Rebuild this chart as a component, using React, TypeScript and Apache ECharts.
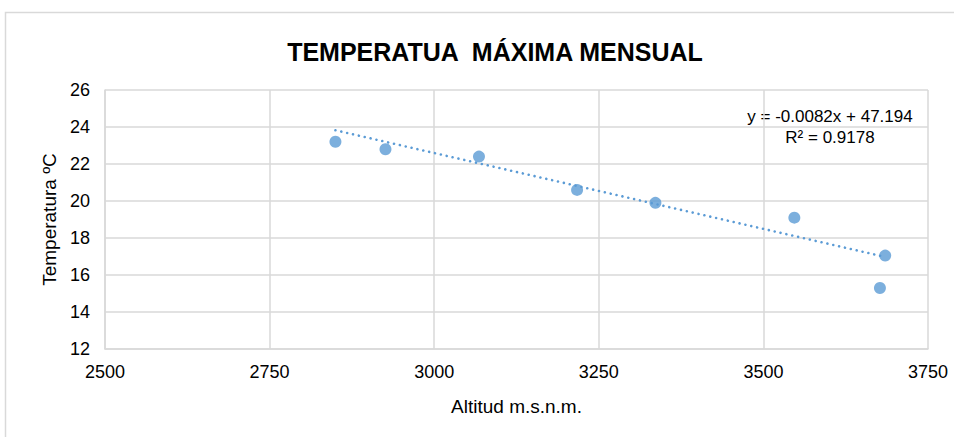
import React, { useEffect, useRef } from "react";
import * as echarts from "echarts";

const titleText = "TEMPERATUA  MÁXIMA MENSUAL";
const xAxisName = "Altitud m.s.n.m.";
const yAxisName = "Temperatura ºC";
const altitudes = [2850, 2926, 3068, 3217, 3336, 3547, 3685, 3677];
const temperatures = [23.2, 22.8, 22.4, 20.6, 19.9, 19.1, 17.05, 15.3];
const slope = -0.0082;
const intercept = 47.194;
const equationLines = ["y = -0.0082x + 47.194", "R² = 0.9178"];

const xMin = Math.min(...altitudes);
const xMax = Math.max(...altitudes);
const trendData = [
  [xMin, slope * xMin + intercept],
  [xMax, slope * xMax + intercept],
];

export default function App() {
  const ref = useRef<HTMLDivElement>(null);
  useEffect(() => {
    if (!ref.current) return;
    const chart = echarts.init(ref.current, null, { renderer: "svg" });
    const font = "Liberation Sans";
    chart.setOption({
      animation: false,
      backgroundColor: "#ffffff",
      title: {
        text: titleText,
        left: 490,
        top: 34,
        textAlign: "center",
        textStyle: {
          fontFamily: font,
          fontWeight: "bold",
          fontSize: 25,
          color: "#000000",
        },
      },
      graphic: [
        {
          type: "rect",
          shape: { x: 5.5, y: 12.5, width: 980, height: 460 },
          style: { fill: "none", stroke: "#d9d9d9", lineWidth: 1.5 },
          silent: true,
        },
        {
          type: "text",
          x: 830,
          y: 106,
          style: {
            text: equationLines.join("\n"),
            align: "center",
            verticalAlign: "top",
            fontFamily: font,
            fontSize: 17,
            lineHeight: 21,
            fill: "#000000",
          },
        },
      ],
      grid: { left: 105, right: 26, top: 90, bottom: 88 },
      xAxis: {
        type: "value",
        min: 2500,
        max: 3750,
        interval: 250,
        name: xAxisName,
        nameLocation: "middle",
        nameGap: 48,
        nameTextStyle: { fontFamily: font, fontSize: 19, color: "#000000" },
        axisLine: { show: true, lineStyle: { color: "#d9d9d9", width: 1.5 } },
        axisTick: { show: false },
        axisLabel: {
          fontFamily: font,
          fontSize: 18,
          color: "#000000",
          margin: 14,
          formatter: (v: number) => String(v),
        },
        splitLine: { show: true, lineStyle: { color: "#d9d9d9", width: 1.5 } },
      },
      yAxis: {
        type: "value",
        min: 12,
        max: 26,
        interval: 2,
        name: yAxisName,
        nameLocation: "middle",
        nameGap: 44,
        nameTextStyle: { fontFamily: font, fontSize: 19, color: "#000000" },
        axisLine: { show: true, lineStyle: { color: "#d9d9d9", width: 1.5 } },
        axisTick: { show: false },
        axisLabel: { fontFamily: font, fontSize: 18, color: "#000000", margin: 15 },
        splitLine: { show: true, lineStyle: { color: "#d9d9d9", width: 1.5 } },
      },
      series: [
        {
          type: "line",
          data: trendData,
          symbol: "none",
          lineStyle: { color: "#5b9bd5", width: 2.6, type: [0.01, 6], cap: "round" },
          z: 2,
          silent: true,
        },
        {
          type: "scatter",
          data: altitudes.map((a, i) => [a, temperatures[i]]),
          symbol: "circle",
          symbolSize: 12,
          itemStyle: { color: "#5b9bd5" },
          z: 3,
        },
      ],
    });
    return () => chart.dispose();
  }, []);
  return (
    <div
      ref={ref}
      style={{ position: "fixed", left: 0, top: 0, width: 954, height: 437 }}
    />
  );
}
